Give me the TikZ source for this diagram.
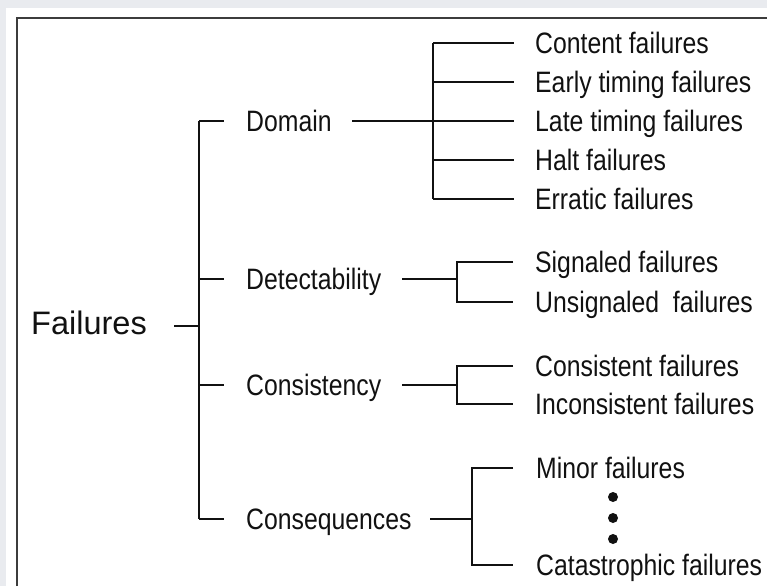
\documentclass[tikz,border=0pt]{standalone}
\usepackage{fontspec}
\setmainfont{Liberation Sans}[FakeStretch=0.84]
\newfontfamily\bigfont{Liberation Sans}[FakeStretch=1.0]
\definecolor{bgc}{HTML}{E9EBEF}
\definecolor{framec}{HTML}{3C3C3C}
\definecolor{ink}{HTML}{111111}
\tikzset{
  lbl/.style={anchor=base west, inner sep=0pt, text=ink, font=\fontsize{29.5}{30}\selectfont},
  biglbl/.style={anchor=base west, inner sep=0pt, text=ink, font=\bigfont\fontsize{32.5}{33}\selectfont},
  wire/.style={draw=ink, line width=2pt},
  dotc/.style={circle, fill=ink, inner sep=0pt, minimum size=10pt}
}
\begin{document}
\begin{tikzpicture}[x=1pt,y=-1pt]
\useasboundingbox (0,0) rectangle (767,586);
\fill[bgc] (0,0) rectangle (767,586);
\fill[white] (6,8) rectangle (767,586);
\draw[framec, line width=2pt] (16.5,586) -- (16.5,18) -- (767,18);

% root
\node[biglbl] (fail) at (31,334.5) {Failures};
\coordinate (rootL) at (174,326);
\coordinate (rootJ) at (199,326);
\coordinate (vTop) at (199,121);
\coordinate (vBot) at (199,519);
\draw[wire] (rootL) -- (rootJ);
\draw[wire] (vTop) -- (vBot);

% second level
\node[lbl] (dom) at (246,131.5) {Domain};
\node[lbl] (det) at (246,289.5) {Detectability};
\node[lbl] (con) at (246,395.5) {Consistency};
\node[lbl] (seq) at (246,529.5) {Consequences};
\foreach \n/\y in {dom/121, det/279, con/385, seq/519}{
  \coordinate (t\n a) at (199,\y);
  \coordinate (t\n b) at (224,\y);
  \draw[wire] (t\n a) -- (t\n b);
}

% Domain branch
\coordinate (domL) at (352,121);
\coordinate (domJ) at (433,121);
\coordinate (domT) at (433,43);
\coordinate (domB) at (433,199);
\draw[wire] (domL) -- (domJ);
\draw[wire] (domT) -- (domB);
\foreach \nm/\y/\t in {c1/43/Content failures, c2/82/Early timing failures, c3/121/Late timing failures, c4/160/Halt failures, c5/199/Erratic failures}{
  \node[lbl] (\nm) at (535,\y+10.5) {\t};
  \coordinate (\nm a) at (433,\y);
  \coordinate (\nm b) at (514,\y);
  \draw[wire] (\nm a) -- (\nm b);
}

% Detectability branch
\coordinate (detL) at (402,279);
\coordinate (detJ) at (457,279);
\coordinate (detT) at (457,262);
\coordinate (detB) at (457,302);
\coordinate (detTe) at (513,262);
\coordinate (detBe) at (513,302);
\draw[wire] (detL) -- (detJ);
\draw[wire] (detTe) -- (detT) -- (detB) -- (detBe);
\node[lbl] (sig) at (535,272.5) {Signaled failures};
\node[lbl] (unsig) at (535,312.5) {Unsignaled\ \ failures};

% Consistency branch
\coordinate (conL) at (402,385);
\coordinate (conJ) at (457,385);
\coordinate (conT) at (457,366);
\coordinate (conB) at (457,404);
\coordinate (conTe) at (513,366);
\coordinate (conBe) at (513,404);
\draw[wire] (conL) -- (conJ);
\draw[wire] (conTe) -- (conT) -- (conB) -- (conBe);
\node[lbl] (cons) at (535,376.5) {Consistent failures};
\node[lbl] (incons) at (535,414.5) {Inconsistent failures};

% Consequences branch
\coordinate (seqL) at (430,519);
\coordinate (seqJ) at (472,519);
\coordinate (seqT) at (472,468);
\coordinate (seqB) at (472,565);
\coordinate (seqTe) at (513,468);
\coordinate (seqBe) at (513,565);
\draw[wire] (seqL) -- (seqJ);
\draw[wire] (seqTe) -- (seqT) -- (seqB) -- (seqBe);
\node[lbl] (minor) at (536,478.5) {Minor failures};
\node[lbl] (cata) at (536,575.5) {Catastrophic failures};
\node[dotc] (d1) at (613,497) {};
\node[dotc] (d2) at (613,518) {};
\node[dotc] (d3) at (613,539) {};
\end{tikzpicture}
\end{document}
